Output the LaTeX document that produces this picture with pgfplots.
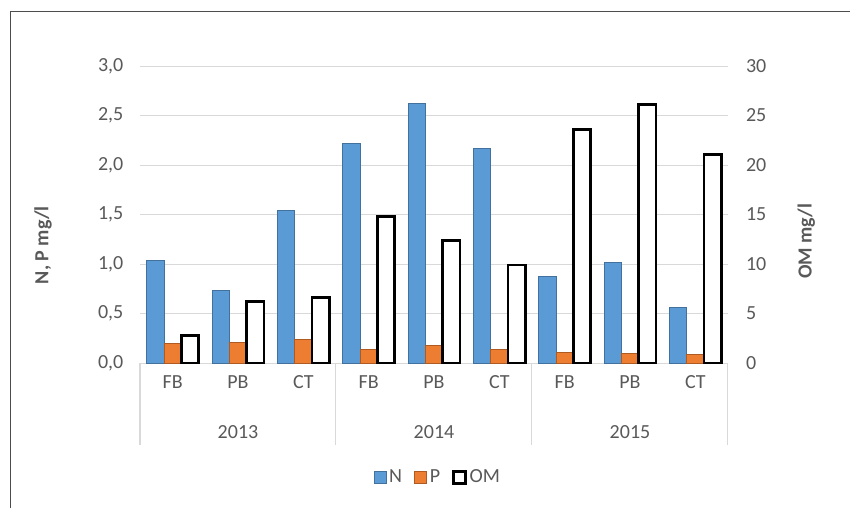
\documentclass[border=0pt]{standalone}
\usepackage{pgfplots}
\pgfplotsset{compat=1.18}
\usepackage{fontspec}
\setmainfont{Carlito}
\definecolor{txt}{HTML}{595959}
\definecolor{gridc}{HTML}{D9D9D9}
\definecolor{nfill}{HTML}{5B9BD5}
\definecolor{ndraw}{HTML}{41719C}
\definecolor{pfill}{HTML}{ED7D31}
\definecolor{pdraw}{HTML}{AE5A21}
\newcommand{\fs}{\fontsize{15}{18}\selectfont}
\pgfplotsset{
  common/.style={
    scale only axis, width=441pt, height=222.75pt,
    at={(105pt,108.75pt)}, anchor=south west,
    xmin=-0.5, xmax=8.5, clip=false,
    font=\fs,
    tick label style={font=\fs, text=txt},
    /pgf/number format/assume math mode=true,
    ytick style={draw=none},
    y axis line style={draw=none},
    legend image code/.code={\draw[#1] (0pt,-4.5pt) rectangle (9pt,4.5pt);},
  }
}
\begin{document}
\begin{tikzpicture}
\useasboundingbox (0,0) rectangle (637.5pt,381pt);
\begin{axis}[common,
  ymin=0, ymax=3,
  ytick={0,0.5,...,3},
  ymajorgrids, grid style={draw=gridc, line width=0.75pt},
  axis x line*=bottom, axis y line*=left,
  x axis line style={draw=gridc, line width=0.75pt, -},
  xtick={0,...,8},
  xticklabels={FB,PB,CT,FB,PB,CT,FB,PB,CT},
  major x tick style={draw=none},
  xticklabel style={yshift=-6pt},
  yticklabel style={xshift=-9pt, /pgf/number format/.cd, fixed, fixed zerofill, precision=1, use comma},
  ylabel={N, P mg/l},
  ylabel style={at={(axis description cs:-0.165,0.397)}, anchor=center, font=\fs\bfseries, text=txt},
]
\addplot[ybar, bar width=0.265, bar shift=-0.265, fill=nfill, draw=ndraw, line width=0.75pt]
  coordinates {(0,1.04) (1,0.73) (2,1.54) (3,2.22) (4,2.62) (5,2.17) (6,0.87) (7,1.02) (8,0.56)};
\addplot[ybar, bar width=0.265, bar shift=0, fill=pfill, draw=pdraw, line width=0.75pt]
  coordinates {(0,0.20) (1,0.21) (2,0.24) (3,0.14) (4,0.18) (5,0.14) (6,0.11) (7,0.10) (8,0.09)};
\foreach \xx in {-0.5,2.5,5.5,8.5} {
  \edef\tmp{\noexpand\draw[draw=gridc, line width=0.75pt] (axis cs:\xx,0) -- ([yshift=-61.5pt]axis cs:\xx,0);}
  \tmp
}
\node[text=txt, font=\fs] at (axis cs:1,0) [yshift=-51.75pt] {2013};
\node[text=txt, font=\fs] at (axis cs:4,0) [yshift=-51.75pt] {2014};
\node[text=txt, font=\fs] at (axis cs:7,0) [yshift=-51.75pt] {2015};
\end{axis}
\begin{axis}[common,
  ymin=0, ymax=30,
  ytick={0,5,...,30},
  axis y line*=right, axis x line=none,
  yticklabel style={xshift=10pt},
  ylabel={OM mg/l},
  ylabel style={at={(axis description cs:1.133,0.41)}, anchor=center, rotate=0, font=\fs\bfseries, text=txt},
  legend style={at={(axis description cs:0.507,-0.384)}, anchor=center, draw=none, legend columns=3,
    font=\fs, text=txt, nodes={inner sep=2pt},
    /tikz/every even column/.append style={column sep=7pt}},
]
\addlegendimage{fill=nfill, draw=ndraw, line width=0.75pt}
\addlegendentry{N}
\addlegendimage{fill=pfill, draw=pdraw, line width=0.75pt}
\addlegendentry{P}
\addplot[ybar, bar width=0.265, bar shift=0.265, fill=white, draw=black, line width=2.2pt]
  coordinates {(0,2.75) (1,6.2) (2,6.6) (3,14.8) (4,12.4) (5,9.9) (6,23.6) (7,26.1) (8,21.1)};
\addlegendentry{OM}
\end{axis}
\draw[line width=1pt, draw=black!70] (8.1pt,0pt) -- (8.1pt,372.4pt) -- (640pt,372.4pt);
\end{tikzpicture}
\end{document}
